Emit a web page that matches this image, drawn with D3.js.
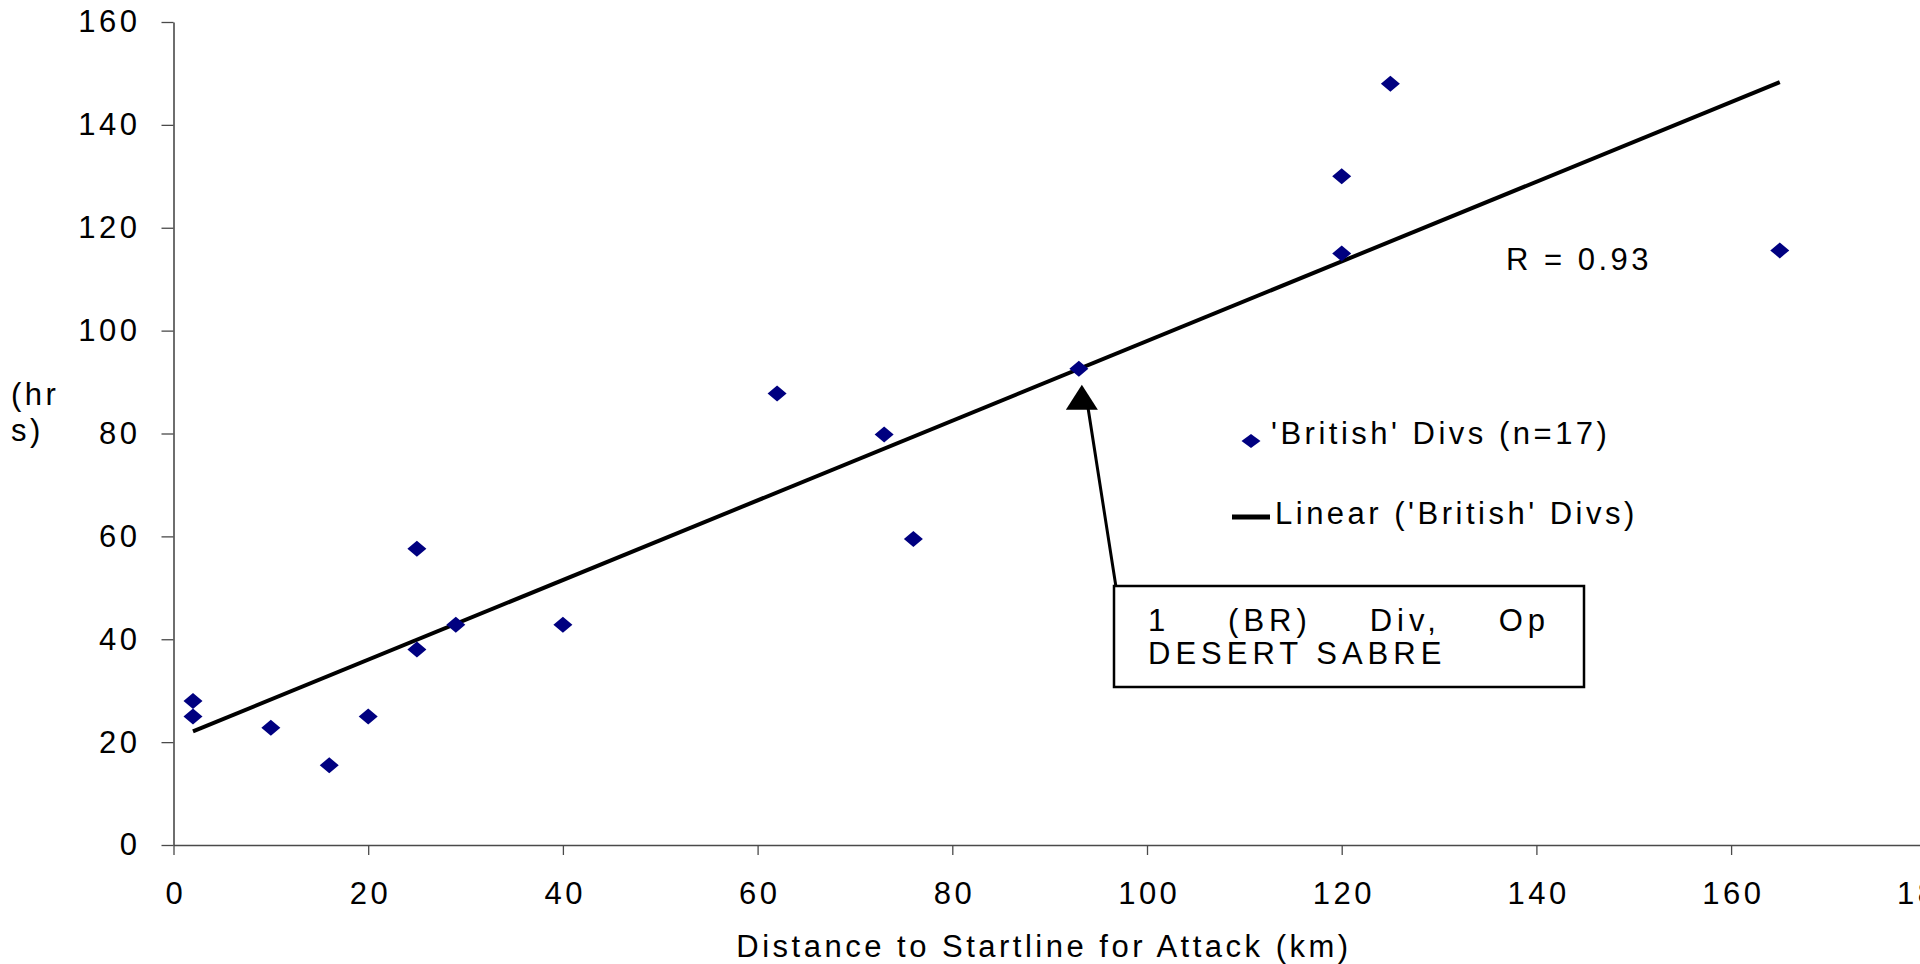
<!DOCTYPE html>
<html>
<head>
<meta charset="utf-8">
<script src="https://cdn.jsdelivr.net/npm/d3@7"></script>
<style>
  html, body { margin: 0; padding: 0; background: #fff; }
  svg { display: block; font-family: "Liberation Sans", Arial, sans-serif; }
  text { font-size: 31px; letter-spacing: 3.5px; fill: #000; }
  .callout text { letter-spacing: 5px; }
</style>
</head>
<body>
<svg id="chart" width="1920" height="964"></svg>
<script>
// distance to startline (km) and time taken (hrs), 'British' divisions
const distanceKm = [2, 2, 10, 16, 20, 25, 25, 29, 40, 62, 73, 76, 93, 120, 120, 125, 165];
const timeHrs = [28, 25, 22.8, 15.5, 25, 57.6, 38, 42.8, 42.8, 87.8, 79.8, 59.5, 92.6, 130, 115, 148, 115.6];

const xTicks = [0, 20, 40, 60, 80, 100, 120, 140, 160, 180];
const yTicks = [0, 20, 40, 60, 80, 100, 120, 140, 160];

const seriesName = "'British' Divs (n=17)";
const trendName = "Linear ('British' Divs)";
const rLabel = "R = 0.93";
const xTitle = "Distance to Startline for Attack (km)";
const yTitleLines = ["(hr", "s)"];
const calloutLines = [["1", "(BR)", "Div,", "Op"], ["DESERT SABRE"]];
const calloutPoint = 12; // index of the point the arrow points at

const svg = d3.select("#chart");

const x = d3.scaleLinear().domain([0, 180]).range([173.5, 1925.8]);
const y = d3.scaleLinear().domain([0, 160]).range([845, 22]);

const axisColor = "#4a4a4a";

// x axis
const xAxis = svg.append("g")
    .attr("transform", `translate(0,${y(0)})`)
    .call(d3.axisBottom(x).tickValues(xTicks).tickSize(10).tickSizeOuter(0).tickPadding(27).tickFormat(d3.format("d")));
xAxis.select(".domain").attr("stroke", axisColor).attr("stroke-width", 1.6);
xAxis.selectAll(".tick line").attr("stroke", axisColor).attr("stroke-width", 1.3);
xAxis.selectAll(".tick text")
    .attr("font-size", null).attr("font-family", null)
    .attr("fill", "#000").attr("dx", "1.75");

// y axis
const yAxis = svg.append("g")
    .attr("transform", `translate(${x(0)},0)`)
    .call(d3.axisLeft(y).tickValues(yTicks).tickSize(12).tickSizeOuter(0).tickPadding(21).tickFormat(d3.format("d")));
yAxis.select(".domain").attr("stroke", axisColor).attr("stroke-width", 1.6);
yAxis.selectAll(".tick line").attr("stroke", axisColor).attr("stroke-width", 1.3);
yAxis.selectAll(".tick text")
    .attr("font-size", null).attr("font-family", null)
    .attr("fill", "#000");

// axis titles
svg.append("text")
    .attr("x", 1044).attr("y", 957)
    .attr("text-anchor", "middle")
    .text(xTitle);

svg.append("g").selectAll("text")
    .data(yTitleLines)
    .enter().append("text")
    .attr("x", 11)
    .attr("y", (d, i) => 405 + i * 36)
    .text(d => d);

// linear trend (least squares)
const mx = d3.mean(distanceKm), my = d3.mean(timeHrs);
let sxy = 0, sxx = 0;
distanceKm.forEach((d, i) => {
    sxy += (d - mx) * (timeHrs[i] - my);
    sxx += (d - mx) * (d - mx);
});
const slope = sxy / sxx;
const intercept = my - slope * mx;
const trendX = d3.extent(distanceKm);

svg.append("line")
    .attr("x1", x(trendX[0])).attr("y1", y(intercept + slope * trendX[0]))
    .attr("x2", x(trendX[1])).attr("y2", y(intercept + slope * trendX[1]))
    .attr("stroke", "#000")
    .attr("stroke-width", 4);

// diamonds
const diamond = "M-9.5,0L0,-8L9.5,0L0,8Z";
svg.append("g").selectAll("path")
    .data(distanceKm)
    .enter().append("path")
    .attr("d", diamond)
    .attr("fill", "#000080")
    .attr("transform", (d, i) => `translate(${x(d)},${y(timeHrs[i])})`);

// R label
svg.append("text").attr("x", 1506).attr("y", 270).text(rLabel);

// legend
svg.append("path")
    .attr("d", "M-9.5,0L0,-7L9.5,0L0,7Z")
    .attr("fill", "#000080")
    .attr("transform", "translate(1251,441)");
svg.append("text").attr("x", 1271).attr("y", 444).text(seriesName);
svg.append("line")
    .attr("x1", 1232).attr("x2", 1270).attr("y1", 517).attr("y2", 517)
    .attr("stroke", "#000").attr("stroke-width", 5);
svg.append("text").attr("x", 1275).attr("y", 524).text(trendName);

// callout box with arrow
const box = { left: 1114, top: 586, right: 1584, bottom: 687 };
const tipX = x(distanceKm[calloutPoint]) + 3;
const tipY = y(timeHrs[calloutPoint]) + 16;
svg.append("line")
    .attr("x1", box.left + 2).attr("y1", box.top + 1)
    .attr("x2", tipX + 6).attr("y2", tipY + 22)
    .attr("stroke", "#000").attr("stroke-width", 3);
svg.append("path")
    .attr("d", `M${tipX},${tipY}L${tipX - 16},${tipY + 25}L${tipX + 16},${tipY + 25}Z`)
    .attr("fill", "#000");

svg.append("rect")
    .attr("x", box.left).attr("y", box.top)
    .attr("width", box.right - box.left).attr("height", box.bottom - box.top)
    .attr("fill", "#fff").attr("stroke", "#000").attr("stroke-width", 2.5);

// first line justified across the box, second line left aligned
const textLeft = 1148, textRight = 1550;
const callout = svg.append("g").attr("class", "callout");
const words = callout.selectAll("text.word")
    .data(calloutLines[0])
    .enter().append("text")
    .attr("class", "word")
    .attr("y", 631)
    .text(d => d);
const widths = [];
words.each(function() { widths.push(this.getComputedTextLength()); });
const gap = (textRight - textLeft - d3.sum(widths)) / (widths.length - 1);
let cursor = textLeft;
words.attr("x", (d, i) => {
    const pos = cursor;
    cursor += widths[i] + gap;
    return pos;
});
callout.append("text").attr("x", textLeft).attr("y", 664).text(calloutLines[1][0]);
</script>
</body>
</html>
